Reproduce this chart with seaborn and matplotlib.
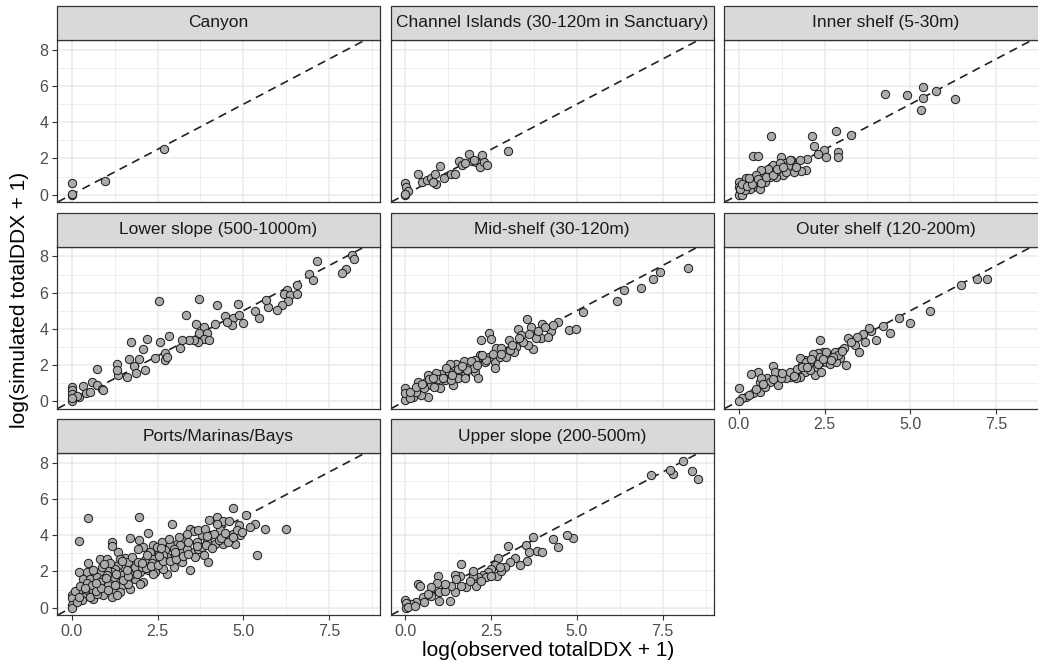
import matplotlib
matplotlib.use("Agg")
import matplotlib.pyplot as plt
from matplotlib.patches import Rectangle
from matplotlib.ticker import MultipleLocator
import pandas as pd
import seaborn as sns

sns.set_theme(style="whitegrid")
plt.rcParams["font.family"] = ["Liberation Sans", "DejaVu Sans"]

# Region (facet) order
regions = [
    "Canyon",
    "Channel Islands (30-120m in Sanctuary)",
    "Inner shelf (5-30m)",
    "Lower slope (500-1000m)",
    "Mid-shelf (30-120m)",
    "Outer shelf (120-200m)",
    "Ports/Marinas/Bays",
    "Upper slope (200-500m)",
]

# (observed, simulated) pairs on log(totalDDX + 1) scale, one list per region
canyon = [(0.0, 0.0), (0.0, 0.05), (0.0, 0.65), (0.97, 0.74), (2.69, 2.50)]

channel_islands = [
    (0.0, 0.65), (0.03, 0.43), (0.08, 0.2), (0.0, 0.0), (0.0, 0.05), (0.37, 1.13),
    (0.49, 0.7), (0.64, 0.8), (0.76, 0.89), (0.86, 1.16), (0.9, 0.6), (1.0, 1.57),
    (0.81, 0.7), (1.13, 0.89), (1.34, 1.13), (1.46, 1.16), (1.56, 1.85), (1.66, 1.63),
    (1.85, 2.24), (1.93, 1.85), (2.07, 1.81), (2.17, 1.5), (2.25, 2.18), (2.3, 1.81),
    (2.37, 1.63), (3.0, 2.42), (1.73, 1.72), (2.0, 1.94),
]

inner_shelf = [
    (4.27, 5.55), (4.9, 5.5), (5.37, 5.93), (5.37, 5.36), (5.76, 5.73), (5.32, 4.68),
    (6.31, 5.27), (0.93, 3.25), (2.13, 3.25), (2.83, 3.51), (3.26, 3.29), (2.19, 2.7),
    (2.48, 2.46), (2.31, 2.22), (2.55, 2.09), (2.89, 2.37), (2.89, 2.09), (0.42, 2.13),
    (0.56, 2.16), (1.22, 2.09), (1.99, 1.96), (1.77, 1.9), (1.53, 1.9), (1.97, 1.35),
    (1.82, 1.31), (1.6, 1.26), (0.0, 0.7), (0.0, 0.43), (0.03, 0.15), (0.0, 0.0),
    (0.08, 0.0), (0.22, 0.89), (0.37, 0.7), (0.47, 0.79), (0.61, 0.98), (0.71, 1.16),
    (0.81, 1.26), (0.95, 1.53), (1.0, 1.63), (1.15, 1.44), (1.24, 1.35), (1.34, 1.72),
    (1.44, 1.57), (1.48, 1.94), (1.29, 1.07), (1.09, 0.98), (0.9, 0.98), (0.75, 0.7),
    (0.56, 0.52), (0.42, 0.43), (0.32, 0.33), (0.17, 0.24), (0.61, 0.33), (1.05, 1.26),
    (1.68, 1.53), (0.85, 1.44), (0.66, 1.35), (0.51, 1.07), (0.27, 0.61), (0.12, 0.52),
    (0.05, 0.33), (1.19, 1.72), (1.39, 1.26), (0.1, 0.6), (0.25, 0.45), (0.4, 0.6),
    (0.55, 0.85), (0.65, 0.65), (0.8, 1.0), (1.0, 1.1), (1.1, 1.4), (0.3, 0.9),
    (1.3, 1.5),
]

lower_slope = [
    (8.16, 8.1), (8.21, 7.85), (8.0, 7.3), (7.88, 7.1), (7.14, 7.77), (6.91, 7.05),
    (7.03, 6.7), (6.56, 6.43), (6.27, 6.16), (6.17, 5.92), (6.35, 5.85), (6.55, 5.92),
    (6.3, 5.55), (6.12, 5.33), (5.98, 5.05), (5.73, 5.18), (5.67, 5.6), (5.35, 5.0),
    (5.46, 4.58), (4.83, 5.36), (4.23, 5.32), (4.47, 4.71), (4.69, 4.58), (4.86, 4.77),
    (4.99, 4.31), (4.66, 4.22), (4.52, 4.4), (4.18, 4.27), (3.72, 5.64), (3.33, 4.77),
    (3.62, 4.27), (3.85, 4.12), (3.72, 3.75), (3.94, 3.75), (3.84, 3.42), (3.69, 3.29),
    (3.55, 3.38), (3.43, 3.38), (3.21, 3.38), (4.01, 3.38), (3.14, 2.96), (2.82, 3.61),
    (2.56, 3.29), (2.53, 5.55), (2.19, 3.42), (2.09, 2.88), (1.72, 3.29), (1.67, 2.35),
    (1.97, 2.31), (1.82, 1.96), (1.88, 1.53), (2.14, 1.72), (1.6, 1.35), (1.36, 1.44),
    (1.31, 2.03), (1.31, 1.72), (2.43, 2.4), (2.72, 2.64), (2.72, 2.27), (2.77, 2.46),
    (0.73, 1.76), (0.58, 1.07), (0.34, 0.83), (0.73, 0.89), (0.87, 0.65), (0.92, 0.61),
    (0.0, 0.79), (0.0, 0.61), (0.0, 0.37), (0.0, 0.0), (0.22, 0.24), (0.42, 0.42),
    (0.53, 0.52), (0.15, 0.3), (0.0, 0.15),
]

mid_shelf = [
    (8.25, 7.36), (7.41, 7.12), (7.21, 6.77), (6.87, 6.25), (6.37, 6.16), (6.17, 5.55),
    (5.17, 4.92), (4.77, 3.94), (4.98, 3.98), (4.44, 4.4), (4.25, 3.85), (3.98, 4.25),
    (4.07, 4.12), (3.55, 4.55), (3.67, 4.12), (3.28, 3.98), (3.96, 3.51), (4.15, 3.57),
    (3.82, 3.48), (3.72, 2.88), (3.57, 3.1), (3.43, 3.29), (3.23, 3.01), (3.18, 2.74),
    (3.01, 3.38), (2.89, 2.74), (2.65, 2.92), (2.43, 3.75), (2.49, 3.44), (2.21, 3.38),
    (2.17, 2.55), (2.31, 2.18), (2.6, 2.14), (2.45, 2.46), (2.02, 2.27), (1.87, 1.9),
    (1.71, 2.22), (1.49, 2.03), (1.29, 2.03), (1.6, 1.63), (1.44, 1.53), (1.24, 1.66),
    (1.05, 1.48), (0.9, 1.53), (0.66, 1.44), (0.61, 1.07), (0.37, 1.07), (0.75, 0.89),
    (1.0, 0.7), (1.15, 1.16), (1.4, 0.89), (1.75, 1.44), (2.04, 1.63), (2.12, 1.26),
    (2.6, 1.81), (2.75, 2.46), (2.94, 2.46), (0.66, 0.24), (0.47, 0.33), (0.22, 0.24),
    (0.0, 0.05), (0.0, 0.7), (0.0, 0.42), (0.13, 0.15), (0.32, 0.52), (0.85, 0.79),
    (0.56, 0.74), (1.53, 1.26), (1.92, 2.22), (2.8, 2.92), (3.04, 2.83), (3.38, 3.66),
    (3.86, 3.85), (4.3, 4.22), (1.32, 1.16), (1.73, 1.26), (2.0, 1.81), (0.15, 0.5),
    (0.3, 0.8), (0.5, 0.95), (0.7, 1.2), (0.95, 1.2), (1.1, 1.3), (1.35, 1.45),
    (1.55, 1.75), (1.8, 1.7), (2.1, 2.0), (2.35, 2.3), (2.55, 2.6), (2.8, 2.6),
    (3.1, 3.1), (1.2, 1.85), (0.8, 1.3), (1.65, 1.95), (2.25, 2.55), (3.3, 3.5),
    (3.6, 3.7),
]

outer_shelf = [
    (7.23, 6.77), (6.94, 6.77), (6.46, 6.4), (5.56, 5.01), (4.98, 4.31), (4.66, 4.62),
    (4.2, 4.18), (4.4, 3.75), (3.86, 3.85), (3.8, 4.03), (3.62, 3.72), (4.01, 3.38),
    (3.67, 3.25), (3.45, 3.57), (3.38, 3.1), (3.5, 2.74), (3.18, 3.51), (3.06, 2.92),
    (2.36, 3.38), (2.8, 2.74), (2.94, 2.4), (3.12, 2.0), (2.65, 2.46), (2.46, 2.74),
    (2.31, 2.64), (2.17, 2.37), (2.05, 2.09), (1.92, 2.27), (1.83, 2.0), (2.41, 2.18),
    (2.55, 2.18), (2.26, 1.81), (2.21, 1.44), (2.41, 1.63), (1.92, 1.63), (1.78, 1.35),
    (1.63, 1.53), (1.49, 1.35), (1.34, 1.44), (1.15, 1.53), (1.0, 1.94), (1.05, 1.63),
    (0.81, 1.26), (0.61, 1.07), (0.56, 1.63), (0.37, 1.48), (0.66, 1.29), (0.9, 1.07),
    (1.15, 0.89), (0.61, 0.52), (0.42, 0.43), (0.22, 0.24), (0.08, 0.15), (0.0, 0.0),
    (0.0, 0.7), (0.76, 0.79), (2.07, 1.72), (2.65, 2.03), (2.84, 2.18), (2.89, 2.55),
    (2.17, 2.59), (1.78, 2.37), (1.39, 1.26), (1.24, 1.29), (1.68, 1.26), (1.97, 2.18),
    (2.36, 2.46), (2.55, 2.74), (2.75, 2.46), (3.28, 3.29), (0.3, 0.35), (0.5, 0.65),
    (0.7, 0.95), (1.0, 1.2), (1.25, 1.55), (1.5, 1.6), (1.7, 1.75), (1.85, 1.9),
    (2.0, 1.9), (2.1, 2.35), (2.3, 2.05), (2.45, 2.35), (2.7, 2.3), (3.0, 2.75),
    (1.6, 1.4),
]

ports = [
    (0.47, 4.98), (1.97, 5.01), (0.22, 3.69), (4.69, 5.51), (5.08, 5.14), (5.39, 2.93),
    (6.24, 4.37), (5.64, 4.33), (5.35, 4.65), (5.2, 4.46), (4.23, 5.01), (4.01, 4.83),
    (4.42, 4.77), (4.57, 4.77), (4.86, 4.55), (2.92, 4.61), (2.23, 4.13), (1.7, 3.87),
    (1.97, 3.72), (1.17, 3.63), (1.17, 3.41), (0.46, 2.47), (1.36, 3.08), (0.81, 2.71),
    (1.02, 2.71), (1.55, 2.75), (2.09, 3.35), (2.38, 3.45), (1.94, 3.26), (3.45, 4.37),
    (3.55, 4.22), (3.79, 4.0), (4.02, 4.0), (4.32, 4.28), (4.51, 4.0), (4.71, 4.09),
    (4.9, 4.0), (4.75, 3.54), (4.42, 3.54), (4.18, 3.54), (3.94, 3.63), (3.65, 3.63),
    (3.26, 3.78), (3.06, 3.54), (2.87, 3.45), (2.72, 3.17), (2.53, 3.08), (2.28, 3.08),
    (2.14, 2.61), (2.38, 2.71), (2.57, 2.53), (2.77, 2.8), (3.01, 2.89), (3.2, 3.08),
    (3.35, 3.26), (3.55, 3.08), (3.69, 3.26), (3.84, 2.89), (3.98, 2.53), (3.45, 2.06),
    (3.2, 2.53), (2.97, 2.25), (2.77, 1.88), (2.67, 2.16), (2.43, 1.97), (2.23, 2.06),
    (1.99, 1.97), (1.8, 1.97), (1.75, 2.34), (1.51, 2.25), (1.36, 2.34), (1.26, 2.16),
    (1.17, 1.97), (1.02, 2.06), (0.83, 1.97), (0.63, 1.97), (0.44, 1.97), (0.22, 1.97),
    (0.34, 1.6), (0.53, 1.6), (0.73, 1.7), (0.92, 1.6), (1.12, 1.51), (1.31, 1.42),
    (1.6, 1.51), (1.85, 1.6), (2.09, 1.42), (1.99, 1.33), (1.46, 1.24), (1.22, 1.05),
    (0.97, 0.96), (0.78, 1.14), (0.58, 1.05), (0.39, 0.96), (0.19, 0.87), (0.34, 0.59),
    (0.63, 0.5), (0.92, 0.68), (1.17, 0.59), (1.41, 0.87), (1.7, 1.05), (1.65, 1.33),
    (0.53, 0.59), (0.29, 0.41), (0.1, 0.5), (0.0, 0.72), (0.0, 0.53), (0.0, 0.13),
    (0.0, 0.0), (0.15, 0.31), (0.73, 0.77), (1.31, 0.68), (1.07, 1.24), (0.83, 1.42),
    (1.85, 2.25), (1.65, 2.53), (1.41, 2.71), (1.75, 2.8), (1.12, 2.44), (0.88, 2.25),
    (0.63, 2.06), (2.18, 2.89), (2.48, 3.35), (2.62, 3.63), (2.82, 3.82), (3.11, 3.91),
    (3.35, 4.09), (3.69, 4.28), (3.89, 4.37), (4.13, 4.09), (4.28, 3.73), (4.62, 3.82),
    (4.81, 4.28), (4.96, 4.19), (4.23, 4.65), (3.79, 3.35), (3.6, 2.8), (3.15, 3.45),
    (2.97, 3.26), (2.67, 2.89), (2.33, 2.44), (1.94, 2.53), (2.04, 2.25), (2.38, 1.88),
    (1.7, 1.79), (1.46, 1.79), (1.22, 1.7), (1.02, 1.79), (0.1, 0.9), (0.25, 1.2),
    (0.45, 1.35), (0.6, 1.25), (0.7, 0.9), (0.85, 1.1), (1.05, 1.0), (1.25, 1.25),
    (1.5, 1.55), (1.65, 1.75), (1.9, 1.85), (2.15, 2.2), (2.3, 2.3), (2.5, 2.35),
    (2.65, 2.6), (2.85, 2.6), (3.05, 2.7), (3.25, 2.85), (3.4, 2.95), (3.65, 3.4),
    (3.9, 3.45), (4.1, 3.3), (4.35, 3.85), (4.55, 3.65), (4.7, 3.9), (3.0, 3.1),
    (2.55, 2.85), (2.05, 2.45), (1.6, 2.1), (1.3, 1.85), (1.0, 1.65), (0.7, 1.35),
    (0.4, 1.1), (0.2, 0.6), (0.95, 2.4), (1.45, 2.55), (2.6, 3.3), (3.4, 3.6),
    (3.95, 3.95), (4.45, 4.1),
]

upper_slope = [
    (8.08, 8.13), (8.35, 7.53), (8.54, 7.09), (7.81, 7.4), (7.71, 7.59), (7.15, 7.35),
    (4.89, 3.85), (4.72, 3.99), (4.44, 3.34), (4.31, 3.8), (3.71, 3.89), (3.53, 3.47),
    (3.85, 3.12), (3.97, 3.06), (3.6, 3.06), (3.56, 2.6), (3.34, 2.38), (3.19, 2.75),
    (2.98, 3.38), (3.04, 2.51), (2.9, 2.23), (2.7, 2.73), (2.61, 2.38), (2.51, 2.14),
    (2.41, 1.96), (2.27, 1.83), (2.12, 1.68), (2.36, 1.68), (2.66, 1.72), (2.8, 2.05),
    (1.97, 1.72), (2.07, 1.22), (1.78, 1.16), (1.61, 2.42), (1.59, 1.77), (1.44, 1.83),
    (1.49, 1.59), (1.63, 1.22), (1.44, 0.85), (1.34, 1.22), (1.29, 0.39), (0.95, 1.72),
    (0.93, 1.35), (0.76, 1.16), (0.99, 0.85), (0.99, 0.39), (0.76, 0.66), (0.37, 1.31),
    (0.42, 1.22), (0.51, 0.57), (0.56, 0.29), (0.66, 0.75), (0.32, 0.29), (0.18, 0.2),
    (0.0, 0.42), (0.01, 0.24), (0.03, 0.0), (0.08, 0.05), (0.27, 0.11), (1.15, 0.94),
    (1.88, 1.49), (2.22, 1.49), (2.51, 1.77), (2.75, 2.23), (1.15, 1.31), (1.97, 2.05),
]

x_ticks = [0.0, 2.5, 5.0, 7.5]
x_tick_labels = ["0.0", "2.5", "5.0", "7.5"]
y_ticks = [0, 2, 4, 6, 8]
y_tick_labels = ["0", "2", "4", "6", "8"]

region_points = [canyon, channel_islands, inner_shelf, lower_slope,
                 mid_shelf, outer_shelf, ports, upper_slope]
rows = []
for name, pts in zip(regions, region_points):
    for obs, sim in pts:
        rows.append({"region": name, "observed": obs, "simulated": sim})
df = pd.DataFrame(rows)

# Facet grid of observed vs simulated values
g = sns.FacetGrid(df, col="region", col_order=regions, col_wrap=3,
                  sharex=True, sharey=True, height=2.2, aspect=1.5)
g.map_dataframe(sns.scatterplot, x="observed", y="simulated",
                s=36, color="#ABABAB", edgecolor="#1A1A1A", linewidth=0.7,
                zorder=3)
g.set_titles("")
g.set_axis_labels("", "")

fig = g.figure
W, H = 1038, 667
fig.set_size_inches(W / 100, H / 100)

col_left = [57, 390.5, 724]
row_top = [40, 246.5, 453]
panel_w, panel_h, strip_h = 323, 162, 34
bottom_panels = {"Outer shelf (120-200m)", "Ports/Marinas/Bays", "Upper slope (200-500m)"}

for i, name in enumerate(regions):
    ax = g.axes_dict[name]
    r, c = divmod(i, 3)
    x0 = col_left[c]
    y0 = row_top[r]
    ax.set_position([x0 / W, 1 - (y0 + panel_h) / H, panel_w / W, panel_h / H])

    ax.set_xlim(-0.43, 8.98)
    ax.set_ylim(-0.41, 8.55)
    ax.set_xticks(x_ticks)
    ax.set_yticks(y_ticks)
    ax.xaxis.set_minor_locator(MultipleLocator(1.25))
    ax.yaxis.set_minor_locator(MultipleLocator(1.0))
    ax.set_facecolor("white")
    ax.grid(which="major", color="#EBEBEB", linewidth=1.1, zorder=0)
    ax.grid(which="minor", color="#EBEBEB", linewidth=0.55, zorder=0)
    ax.set_axisbelow(True)

    # 1:1 reference line
    ax.axline((0, 0), slope=1, color="#222222", linewidth=1.2,
              linestyle=(0, (5, 3.4)), zorder=2)

    for sp in ax.spines.values():
        sp.set_visible(True)
        sp.set_color("#333333")
        sp.set_linewidth(0.9)

    show_x = name in bottom_panels
    show_y = c == 0
    ax.tick_params(axis="x", which="major", bottom=show_x, labelbottom=show_x,
                   length=3.8, width=0.8, color="#333333",
                   labelsize=11.5, labelcolor="#4D4D4D", pad=2.5)
    ax.tick_params(axis="y", which="major", left=show_y, labelleft=show_y,
                   length=3.8, width=0.8, color="#333333",
                   labelsize=11.5, labelcolor="#4D4D4D", pad=2.5)
    ax.tick_params(which="minor", bottom=False, left=False)
    if show_x:
        ax.set_xticklabels(x_tick_labels)
    if show_y:
        ax.set_yticklabels(y_tick_labels)

    # strip header
    sh = strip_h / panel_h
    ax.add_patch(Rectangle((0, 1), 1, sh, transform=ax.transAxes,
                           facecolor="#D9D9D9", edgecolor="#333333",
                           linewidth=0.9, clip_on=False, zorder=5))
    ax.text(0.5, 1 + sh / 2, name, transform=ax.transAxes, ha="center",
            va="center", fontsize=12.5, color="#1A1A1A", zorder=6)

fig.text(548 / W, 1 - 650 / H, "log(observed totalDDX + 1)", ha="center",
         va="center", fontsize=15, color="black")
fig.text(20 / W, 1 - 300 / H, "log(simulated totalDDX + 1)", ha="center",
         va="center", rotation=90, fontsize=15, color="black")

fig.savefig("out.png", dpi=100, facecolor="white")
